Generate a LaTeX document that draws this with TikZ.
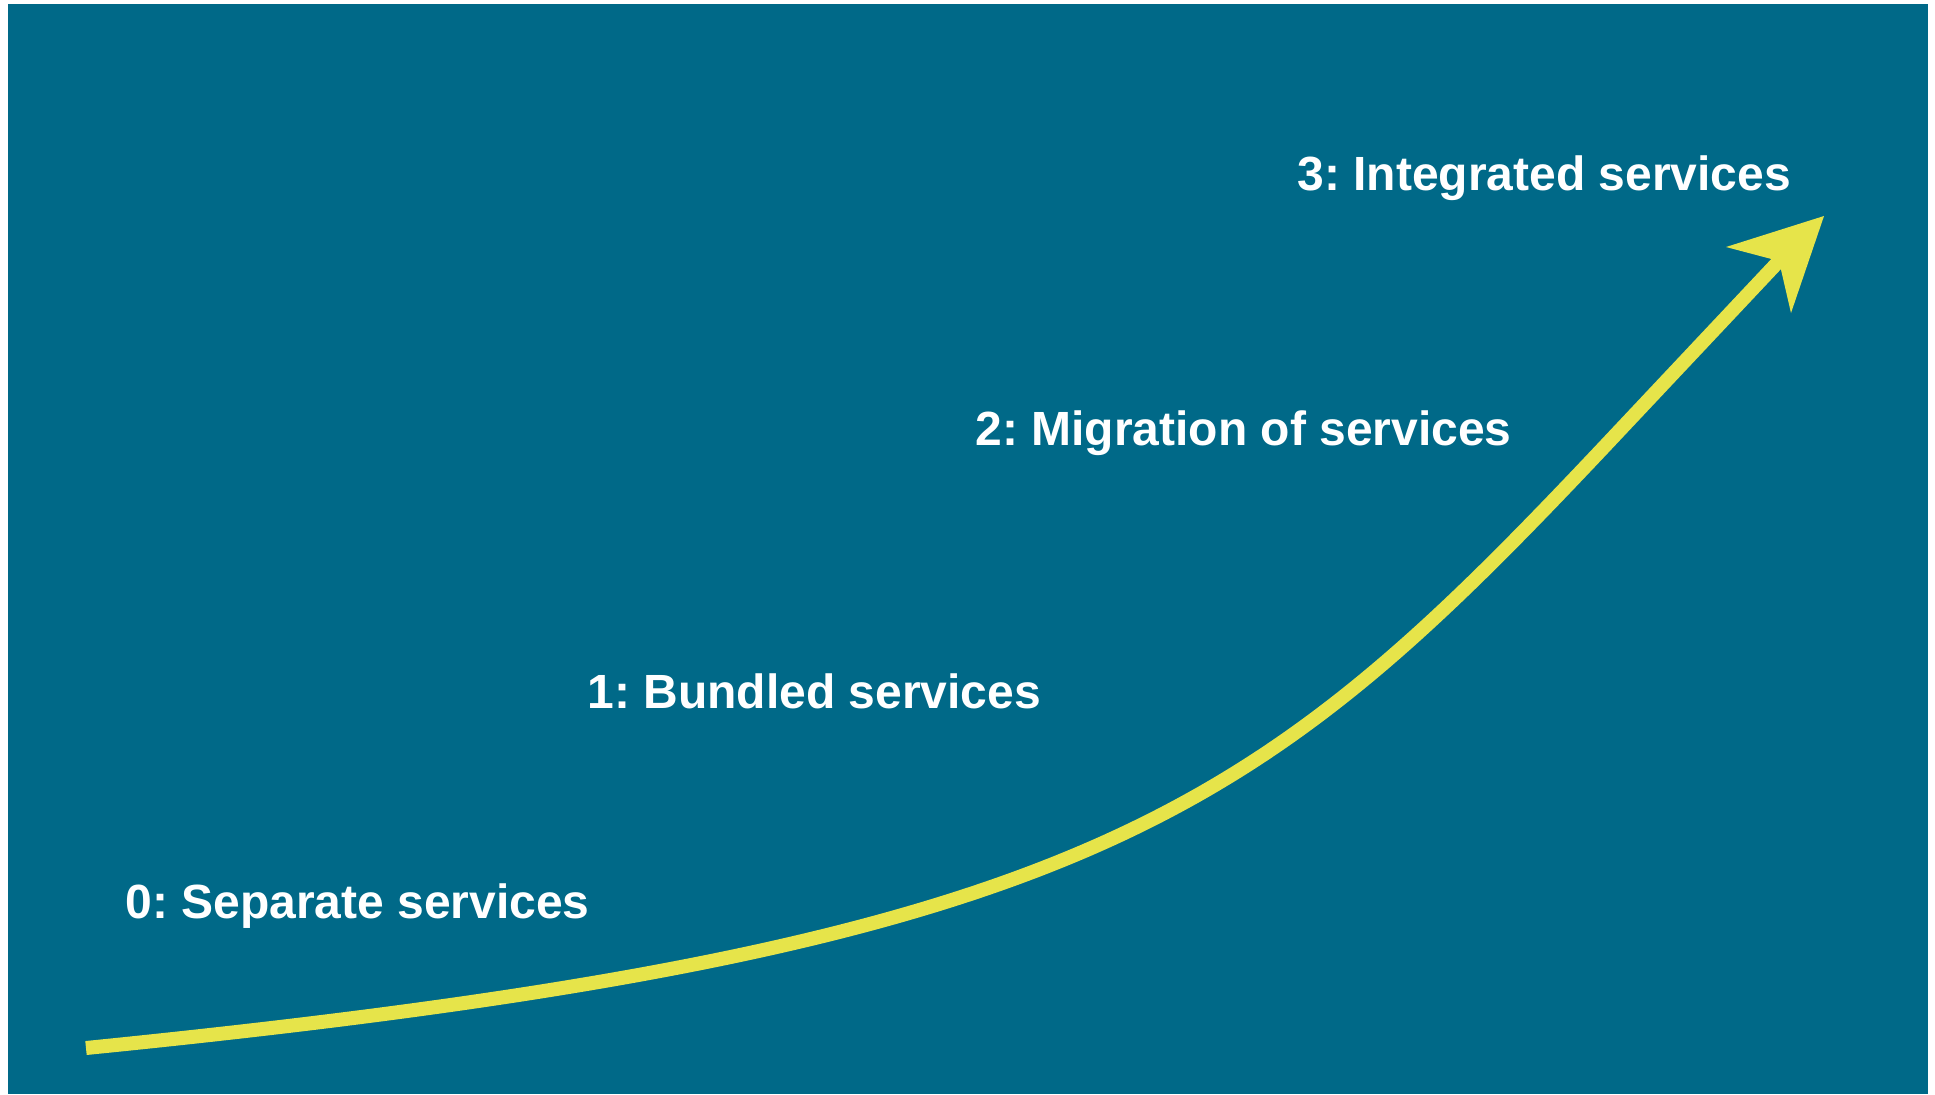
\documentclass[tikz,border=0pt]{standalone}
\usepackage{fontspec}
\setmainfont{Liberation Sans}
\definecolor{bgteal}{RGB}{0,105,136}
\definecolor{curveyellow}{RGB}{230,228,74}
\begin{document}
\frenchspacing
\begin{tikzpicture}[x=0.5pt,y=-0.5pt,
  stage/.style={anchor=base west,inner sep=0pt,text=white,font=\fontsize{24}{28}\selectfont\bfseries\frenchspacing},
  curve/.style={draw=curveyellow,line width=7pt,line join=round},
  headstyle/.style={fill=curveyellow,draw=none}]
\useasboundingbox (0,0) rectangle (1935,1094);
\fill[white] (0,0) rectangle (1935,1094);
\fill[bgteal] (8,4) rectangle (1928,1094);

\node[stage] (s0) at (125,918) {0: Separate services};
\node[stage] (s1) at (587,708) {1: Bundled services};
\node[stage] (s2) at (975,445) {2: Migration of services};
\node[stage] (s3) at (1297,190) {3: Integrated services};

\coordinate (cstart) at (86,1048);
\coordinate (cjoin) at (1604,447);
\coordinate (cend) at (1779,261);
\coordinate (tip) at (1824,216);
\coordinate (wingA) at (1726,247);
\coordinate (wingB) at (1791,313);

\draw[curve] (cstart) .. controls (1086,948) and (1254,818) .. (cjoin) -- (cend);
\fill[headstyle] (tip) -- (wingA) -- (cend) -- (wingB) -- cycle;
\end{tikzpicture}
\end{document}
